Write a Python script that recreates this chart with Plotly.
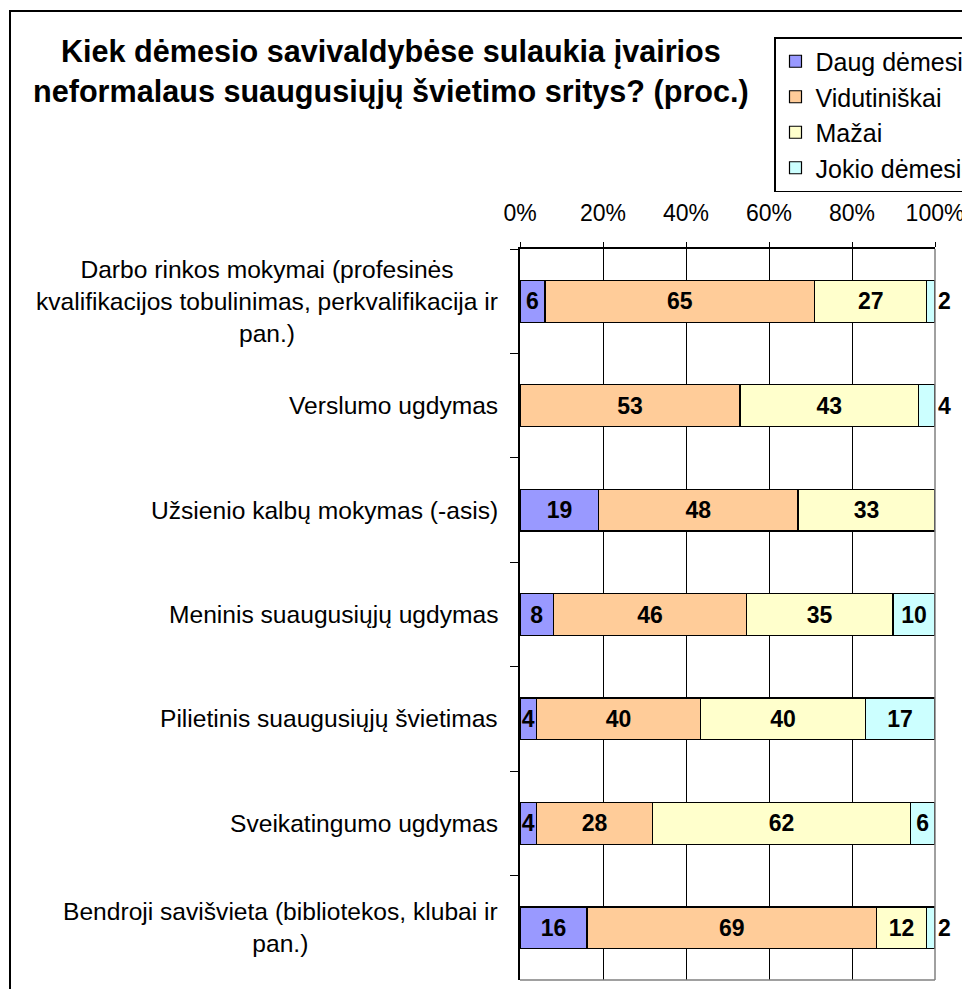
import plotly.graph_objects as go

FONT = "Liberation Sans, Arial, sans-serif"

categories = [
    "Darbo rinkos mokymai",
    "Verslumo ugdymas",
    "Užsienio kalbų mokymas",
    "Meninis suaugusiųjų ugdymas",
    "Pilietinis suaugusiųjų švietimas",
    "Sveikatingumo ugdymas",
    "Bendroji savišvieta",
]
labels = [
    "Darbo rinkos mokymai (profesinės<br>kvalifikacijos tobulinimas, perkvalifikacija ir<br>pan.)",
    "Verslumo ugdymas",
    "Užsienio kalbų mokymas (-asis)",
    "Meninis suaugusiųjų ugdymas",
    "Pilietinis suaugusiųjų švietimas",
    "Sveikatingumo ugdymas",
    "Bendroji savišvieta (bibliotekos, klubai ir<br>pan.)",
]

series_names = ["Daug dėmesio", "Vidutiniškai", "Mažai", "Jokio dėmesio"]
daug = [6, 0, 19, 8, 4, 4, 16]
vidut = [65, 53, 48, 46, 40, 28, 69]
mazai = [27, 43, 33, 35, 40, 62, 12]
jokio = [2, 4, 0, 10, 17, 6, 2]
colors = ["#9999FF", "#FFCC99", "#FFFFCC", "#CCFFFF"]

# the page body adds an 8px margin, so the figure is 8px smaller and
# every pixel position below is given in page pixels and shifted back
OFF = 8
W, H = 970 - OFF, 989 - OFF
PL, PR, PT, PB = 520 - OFF, 35, 249 - OFF, 9
pw, ph = W - PL - PR, H - PT - PB


def px_x(px):
    return (px - OFF - PL) / pw


def px_y(py):
    return (H - PB - (py - OFF)) / ph


fig = go.Figure()
for name, vals, col in zip(series_names, [daug, vidut, mazai, jokio], colors):
    last = name == series_names[-1]
    fig.add_trace(go.Bar(
        y=categories, x=vals, name=name, orientation="h",
        marker=dict(color=col, line=dict(color="black", width=1.2)),
        text=[str(v) if v else "" for v in vals],
        textposition=[("outside" if (last and v < 5) else "inside") for v in vals],
        insidetextanchor="middle",
        textangle=0,
        constraintext="none",
        cliponaxis=False,
        textfont=dict(family=FONT, size=23, color="black", weight="bold"),
        legendgroup=name,
        hoverinfo="skip",
    ))

fig.update_layout(
    width=W, height=H,
    barmode="stack", barnorm="percent", bargap=0.6,
    plot_bgcolor="white", paper_bgcolor="white",
    font=dict(family=FONT, size=24, color="black"),
    margin=dict(l=PL, r=PR, t=PT, b=PB, autoexpand=False),
    legend=dict(
        x=px_x(774), y=px_y(37), xanchor="left", yanchor="top",
        bgcolor="white", bordercolor="black", borderwidth=1.5,
        font=dict(family=FONT, size=25, color="black"),
        tracegroupgap=2.5, traceorder="normal",
    ),
)
# range a hair over 100 so normalised stacks (float sums) are not hidden
fig.update_xaxes(
    side="top", range=[0, 100.001], dtick=20, ticksuffix="%",
    showgrid=True, gridcolor="black", gridwidth=1,
    showline=True, linecolor="black", linewidth=1.5,
    ticks="outside", ticklen=5, tickcolor="black",
    ticklabelstandoff=12,
    tickfont=dict(family=FONT, size=23, color="black"),
    zeroline=False,
)
fig.update_yaxes(
    autorange="reversed", showticklabels=False,
    tickson="boundaries", ticks="outside", ticklen=8, tickcolor="black",
    showline=True, linecolor="black", linewidth=1.5,
    showgrid=False,
)

# plot area border (right and bottom) in grey
fig.add_shape(type="line", xref="paper", yref="paper", x0=1, x1=1, y0=0, y1=1,
              line=dict(color="#808080", width=1.5))
fig.add_shape(type="line", xref="paper", yref="paper", x0=0, x1=1, y0=0, y1=0,
              line=dict(color="#808080", width=1.5))

# outer chart frame, cropped at right and bottom
fig.add_shape(type="rect", xref="paper", yref="paper",
              x0=px_x(10), x1=px_x(1000), y0=px_y(1010), y1=px_y(11),
              line=dict(color="black", width=2))

# category labels, centred lines, right-aligned block
for cat, lab in zip(categories, labels):
    fig.add_annotation(
        xref="paper", yref="y", x=px_x(500), y=cat,
        text=lab, showarrow=False, xanchor="right", yanchor="middle",
        align="center", font=dict(family=FONT, size=24.6, color="black"),
    )

fig.add_annotation(
    xref="paper", yref="paper", x=px_x(391), y=px_y(72),
    text="Kiek dėmesio savivaldybėse sulaukia įvairios<br>neformalaus suaugusiųjų švietimo sritys? (proc.)",
    showarrow=False, xanchor="center", yanchor="middle", align="center",
    font=dict(family=FONT, size=30.6, color="black", weight="bold"),
)

fig.write_html("out.html")
